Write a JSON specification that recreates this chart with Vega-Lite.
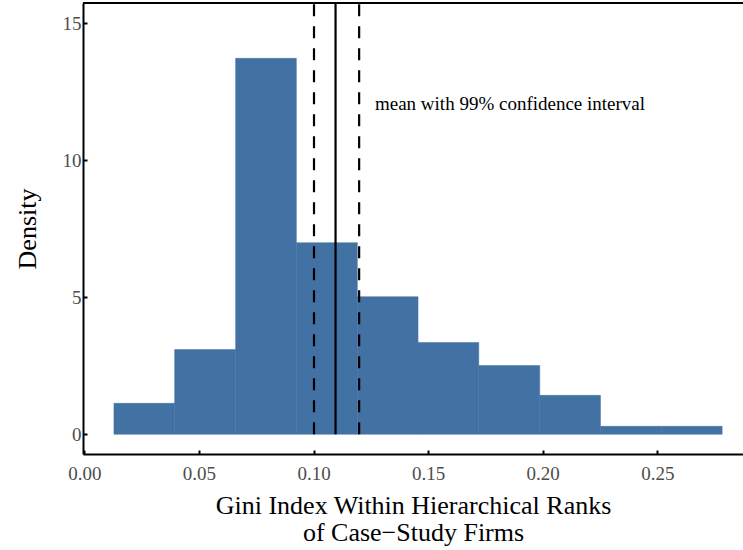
{
  "$schema": "https://vega.github.io/schema/vega-lite/v6.json",
  "width": 660,
  "height": 451,
  "autosize": "none",
  "padding": {"left": 83, "top": 3, "right": 0, "bottom": 96},
  "background": "white",
  "config": {
    "font": "Liberation Serif",
    "view": {"stroke": null},
    "axis": {
      "grid": false,
      "domainColor": "black",
      "domainWidth": 2,
      "tickColor": "black",
      "tickWidth": 2,
      "tickSize": -4,
      "labelColor": "#4d4d4d",
      "labelFont": "Liberation Serif",
      "labelFontSize": 19,
      "titleFont": "Liberation Serif",
      "titleFontSize": 26,
      "titleFontWeight": "normal",
      "titleColor": "black"
    }
  },
  "datasets": {
    "bins": [
      {"bin_start": 0.0129, "bin_end": 0.0394, "density": 1.13},
      {"bin_start": 0.0394, "bin_end": 0.0660, "density": 3.09},
      {"bin_start": 0.0660, "bin_end": 0.0925, "density": 13.72},
      {"bin_start": 0.0925, "bin_end": 0.1191, "density": 6.99},
      {"bin_start": 0.1191, "bin_end": 0.1456, "density": 5.02},
      {"bin_start": 0.1456, "bin_end": 0.1721, "density": 3.35},
      {"bin_start": 0.1721, "bin_end": 0.1987, "density": 2.51},
      {"bin_start": 0.1987, "bin_end": 0.2252, "density": 1.42},
      {"bin_start": 0.2252, "bin_end": 0.2518, "density": 0.29},
      {"bin_start": 0.2518, "bin_end": 0.2783, "density": 0.29}
    ],
    "lines": [
      {"x": 0.1002, "kind": "ci", "y0": 0, "y1": 15.74},
      {"x": 0.1096, "kind": "mean", "y0": 0, "y1": 15.74},
      {"x": 0.1199, "kind": "ci", "y0": 0, "y1": 15.74}
    ],
    "label": [
      {"x": 0.1268, "y": 12.05, "text": "mean with 99% confidence interval"}
    ],
    "border": [
      {"y": 15.74}
    ]
  },
  "layer": [
    {
      "data": {"name": "bins"},
      "mark": {"type": "bar", "color": "#4271a3", "stroke": "#4271a3", "strokeWidth": 0.5},
      "encoding": {
        "x": {
          "field": "bin_start",
          "type": "quantitative",
          "scale": {"domain": [-0.0006, 0.2874], "nice": false, "zero": false},
          "axis": {
            "values": [0, 0.05, 0.1, 0.15, 0.2, 0.25],
            "format": ".2f",
            "labelPadding": 14,
            "title": ["Gini Index Within Hierarchical Ranks", "of Case\u2212Study Firms"],
            "titleLineHeight": 27,
            "titlePadding": 9
          }
        },
        "x2": {"field": "bin_end"},
        "y": {
          "field": "density",
          "type": "quantitative",
          "scale": {"domain": [-0.72, 15.74], "nice": false, "zero": false},
          "axis": {
            "values": [0, 5, 10, 15],
            "labelPadding": 6,
            "title": "Density",
            "titlePadding": 22
          }
        },
        "y2": {"datum": 0}
      }
    },
    {
      "data": {"name": "lines"},
      "mark": {"type": "rule", "color": "black", "strokeWidth": 2.2},
      "encoding": {
        "x": {"field": "x", "type": "quantitative"},
        "y": {"field": "y0", "type": "quantitative"},
        "y2": {"field": "y1"},
        "strokeDash": {
          "field": "kind",
          "type": "nominal",
          "scale": {"domain": ["ci", "mean"], "range": [[12, 10], [1, 0]]},
          "legend": null
        }
      }
    },
    {
      "data": {"name": "border"},
      "mark": {"type": "rule", "color": "black", "strokeWidth": 2},
      "encoding": {
        "y": {"field": "y", "type": "quantitative"}
      }
    },
    {
      "data": {"name": "label"},
      "mark": {"type": "text", "align": "left", "baseline": "middle", "fontSize": 19, "font": "Liberation Serif", "color": "black"},
      "encoding": {
        "x": {"field": "x", "type": "quantitative"},
        "y": {"field": "y", "type": "quantitative"},
        "text": {"field": "text"}
      }
    }
  ]
}
